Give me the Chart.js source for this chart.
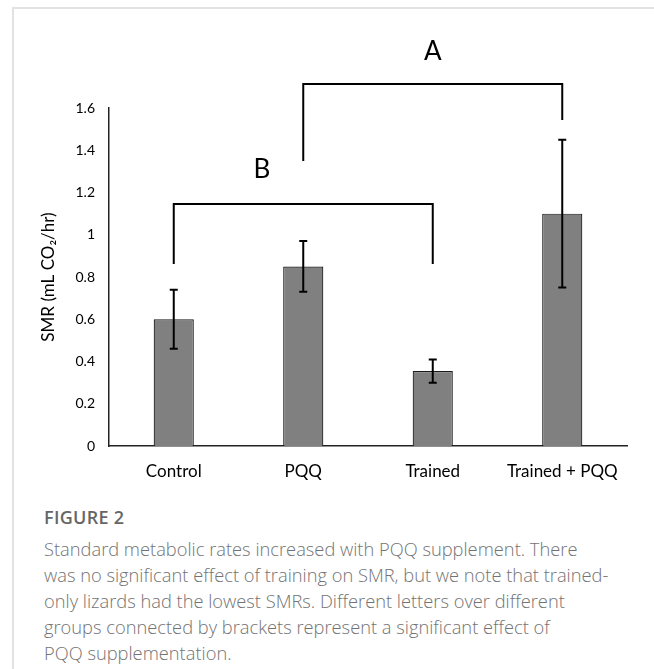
<!DOCTYPE html>
<html>
<head>
<meta charset="utf-8">
<script src="https://cdn.jsdelivr.net/npm/chart.js@4/dist/chart.umd.min.js"></script>
<style>
  body { margin: 0; background: #fff; width: 654px; height: 669px; overflow: hidden; position: relative; }
  #frame { position: absolute; left: 12px; top: 7px; width: 660px; height: 700px; border-top: 2px solid #e2e2e2; border-left: 2px solid #e2e2e2; }
  #myChart { position: absolute; left: 0; top: 0; }
  #figLabel { position: absolute; left: 44px; top: 505px; font-family: "Open Sans", sans-serif; font-size: 18px; font-weight: 600; color: #666; letter-spacing: 0.3px; }
  #caption { position: absolute; left: 44px; top: 536px; width: 610px; font-family: "Open Sans", sans-serif; font-size: 18.3px; line-height: 26px; color: #737373; font-weight: 300; white-space: nowrap; }
</style>
</head>
<body>
<div id="frame"></div>
<canvas id="myChart" width="654" height="495"></canvas>
<div id="figLabel">FIGURE 2</div>
<div id="caption">Standard metabolic rates increased with PQQ supplement. There<br>was no significant effect of training on SMR, but we note that trained-<br>only lizards had the lowest SMRs. Different letters over different<br>groups connected by brackets represent a significant effect of<br>PQQ supplementation.</div>
<script>
var xValues = ["Control", "PQQ", "Trained", "Trained + PQQ"];
var yValues = [0.60, 0.85, 0.355, 1.10];
var errLow = [0.46, 0.73, 0.30, 0.75];
var errHigh = [0.74, 0.97, 0.41, 1.45];
var yTicks = [0, 0.2, 0.4, 0.6, 0.8, 1, 1.2, 1.4, 1.6];

// brackets: from category, to category, bar height, left leg end, right leg end, letter, letter position
var brackets = [
  {from: 1, to: 3, top: 1.714, leftEnd: 1.349, rightEnd: 1.543, letter: "A", letterAt: 2.0, letterY: 1.865},
  {from: 0, to: 2, top: 1.146, leftEnd: 0.862, rightEnd: 0.862, letter: "B", letterAt: 0.68, letterY: 1.307}
];

var errorBars = {
  id: "errorBars",
  afterDatasetsDraw: function (chart) {
    var ctx = chart.ctx;
    var y = chart.scales.y;
    var bars = chart.getDatasetMeta(0).data;
    ctx.save();
    ctx.strokeStyle = "#000";
    ctx.lineWidth = 2;
    bars.forEach(function (bar, i) {
      var x = bar.x;
      var lo = y.getPixelForValue(errLow[i]);
      var hi = y.getPixelForValue(errHigh[i]);
      ctx.beginPath();
      ctx.moveTo(x, lo); ctx.lineTo(x, hi);
      ctx.moveTo(x - 4, lo); ctx.lineTo(x + 4, lo);
      ctx.moveTo(x - 4, hi); ctx.lineTo(x + 4, hi);
      ctx.stroke();
    });
    ctx.restore();
  }
};

var bracketLines = {
  id: "bracketLines",
  afterDraw: function (chart) {
    var ctx = chart.ctx;
    var xs = chart.scales.x;
    var ys = chart.scales.y;
    ctx.save();
    ctx.strokeStyle = "#000";
    ctx.lineWidth = 2;
    brackets.forEach(function (b) {
      var x1 = xs.getPixelForValue(b.from);
      var x2 = xs.getPixelForValue(b.to);
      var top = ys.getPixelForValue(b.top);
      ctx.beginPath();
      ctx.moveTo(x1, ys.getPixelForValue(b.leftEnd));
      ctx.lineTo(x1, top);
      ctx.lineTo(x2, top);
      ctx.lineTo(x2, ys.getPixelForValue(b.rightEnd));
      ctx.stroke();
      ctx.fillStyle = "#000";
      ctx.font = "26px Lato, sans-serif";
      ctx.textAlign = "center";
      ctx.textBaseline = "middle";
      ctx.fillText(b.letter, xs.getPixelForValue(b.letterAt), ys.getPixelForValue(b.letterY));
    });
    ctx.restore();
  }
};

new Chart("myChart", {
  type: "bar",
  data: {
    labels: xValues,
    datasets: [{
      backgroundColor: "#808080",
      borderColor: "#1a1a1a",
      borderWidth: 1.2,
      borderSkipped: "bottom",
      barPercentage: 0.31,
      categoryPercentage: 1,
      data: yValues
    }]
  },
  options: {
    responsive: false,
    animation: false,
    devicePixelRatio: 1,
    layout: {padding: {top: 108, right: 27, left: 38, bottom: 0}},
    plugins: {legend: {display: false}, tooltip: {enabled: false}},
    scales: {
      x: {
        grid: {display: false, drawTicks: false},
        border: {color: "#222", width: 1.5},
        ticks: {color: "#000", font: {family: "Lato", size: 17}, padding: 15},
        afterFit: function (s) { s.height = 49; }
      },
      y: {
        min: 0, max: 1.6,
        grid: {display: false, drawTicks: false},
        border: {color: "#222", width: 1.5},
        afterBuildTicks: function (s) { s.ticks = yTicks.map(function (v) { return {value: v}; }); },
        ticks: {color: "#000", font: {family: "Lato", size: 14}, padding: 14,
          callback: function (v) { return String(v); }},
        title: {display: true, text: "SMR (mL CO\u2082/hr)", color: "#000", font: {family: "Lato", size: 17}, padding: {top: 0, bottom: 8}},
        afterFit: function (s) { s.width = 71; }
      }
    }
  },
  plugins: [errorBars, bracketLines]
});
</script>
</body>
</html>
